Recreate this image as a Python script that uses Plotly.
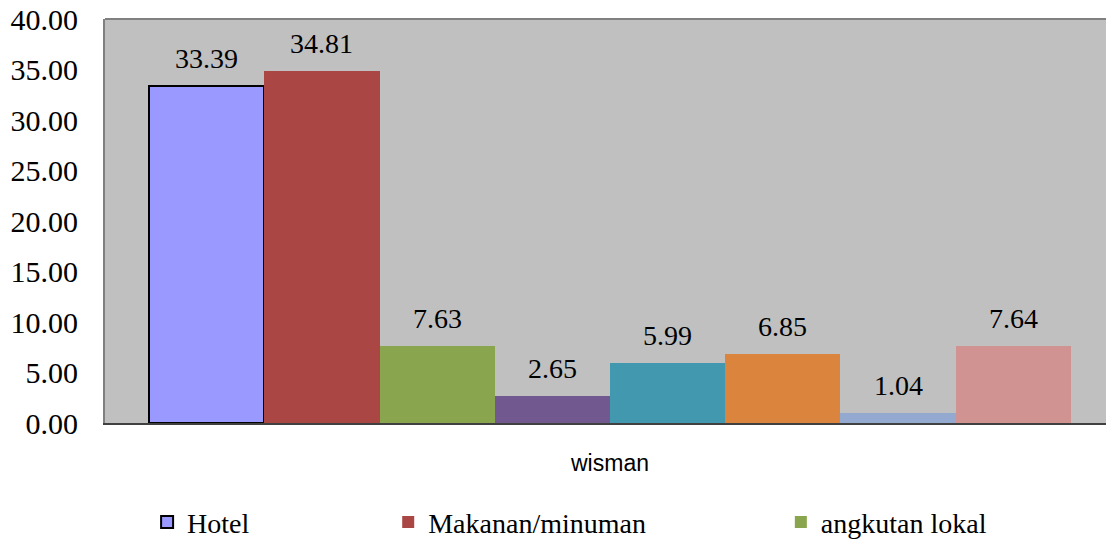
import plotly.graph_objects as go

# ---- data ----
series_names = ["Hotel", "Makanan/minuman", "angkutan lokal",
                "Seri 4", "Seri 5", "Seri 6", "Seri 7", "Seri 8"]
values = [33.39, 34.81, 7.63, 2.65, 5.99, 6.85, 1.04, 7.64]
category = "wisman"
legend_shown = ["Hotel", "Makanan/minuman", "angkutan lokal"]
y_ticks = [0, 5, 10, 15, 20, 25, 30, 35, 40]

colors = ["#9999FF", "#AA4643", "#89A54E", "#71588F",
          "#4198AF", "#DB843D", "#93A9CF", "#D19392"]

SERIF = "Liberation Serif"
SANS = "Liberation Sans"

fig = go.Figure()
legend_ids = {"Hotel": "legend", "Makanan/minuman": "legend2", "angkutan lokal": "legend3"}

for i, (name, v) in enumerate(zip(series_names, values)):
    fig.add_trace(go.Bar(
        x=[i], y=[v], width=1, name=name,
        marker=dict(color=colors[i],
                    line=dict(color="black", width=2 if i == 0 else 0)),
        showlegend=name in legend_shown,
        legend=legend_ids.get(name, "legend"),
        hoverinfo="name+y",
    ))
    fig.add_annotation(x=i, y=v, text=f"{v:.2f}", showarrow=False,
                       yanchor="bottom", yshift=10,
                       font=dict(family=SERIF, size=28, color="black"))

n = len(values)
fig.update_layout(
    width=1106, height=539,
    margin=dict(l=105, r=0, t=19, b=116, autoexpand=False),
    paper_bgcolor="white",
    plot_bgcolor="#C0C0C0",
    barmode="overlay",
    bargap=0,
    font=dict(family=SERIF, color="black"),
    xaxis=dict(
        range=[-0.882, n - 0.5 + 0.304],
        tickvals=[(n - 1) / 2], ticktext=[category],
        tickfont=dict(family=SANS, size=23, color="black"),
        ticks="", ticklabelstandoff=18,
        showgrid=False, zeroline=False,
        showline=True, linecolor="#404040", linewidth=2,
        fixedrange=True,
    ),
    yaxis=dict(
        range=[0, 40],
        tickvals=y_ticks, tickformat=".2f",
        tickfont=dict(family=SERIF, size=30, color="black"),
        ticks="", ticklabelstandoff=19,
        showgrid=False, zeroline=False,
        showline=True, linecolor="#808080", linewidth=2,
        fixedrange=True,
    ),
    shapes=[dict(type="line", xref="paper", yref="paper",
                 x0=0, x1=1, y0=1, y1=1,
                 line=dict(color="#808080", width=2))],
)

legend_common = dict(orientation="h", xref="container", yref="container",
                     yanchor="middle", y=0.031, bgcolor="rgba(0,0,0,0)",
                     font=dict(family=SERIF, size=28, color="black"),
                     itemwidth=30)
fig.update_layout(
    legend=dict(x=0.133, **legend_common),
    legend2=dict(x=0.351, **legend_common),
    legend3=dict(x=0.706, **legend_common),
)

fig.write_html("out.html", config={"displayModeBar": False},
               post_script="document.body.style.margin='0';")
